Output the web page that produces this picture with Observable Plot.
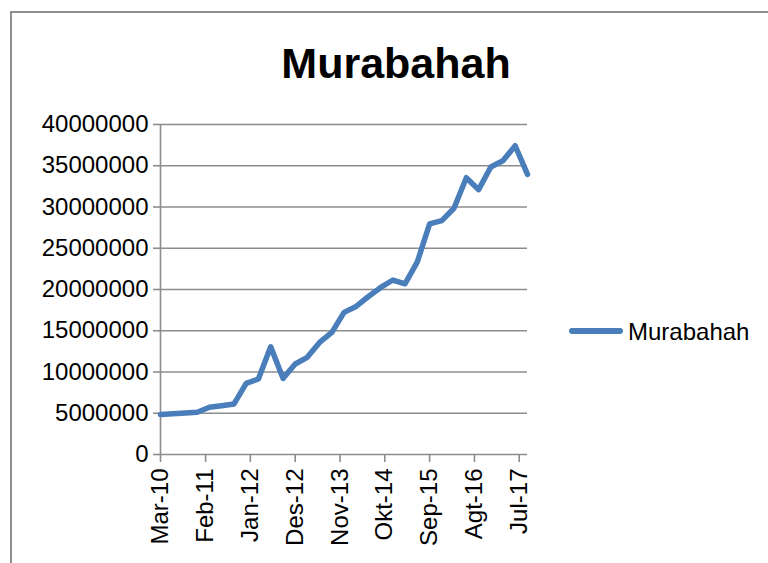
<!DOCTYPE html>
<html>
<head>
<meta charset="utf-8">
<script src="https://cdn.jsdelivr.net/npm/d3@7"></script>
<script src="https://cdn.jsdelivr.net/npm/@observablehq/plot@0.6"></script>
<style>
  html, body { margin: 0; padding: 0; background: #fff; }
  #wrap { position: relative; width: 768px; height: 563px; overflow: hidden; background: #fff; }
  #wrap svg.plot { position: absolute; left: 0; top: 0; }
  #border { position: absolute; left: 9.5px; top: 10.5px; width: 800px; height: 600px;
            border-left: 2px solid #8e8e8e; border-top: 2px solid #8e8e8e; box-sizing: border-box; }
  #title { position: absolute; left: 0; width: 792px; text-align: center; top: 41.5px;
           font: bold 43px "Liberation Sans", Arial, sans-serif; line-height: 43px; color: #000; }
  #legend { position: absolute; left: 569px; top: 318px; height: 24px; line-height: 24px;
            font: 24px "Liberation Sans", Arial, sans-serif; color: #000; white-space: nowrap; }
  #legend .sw { position: absolute; left: 0; top: 10px; width: 54px; height: 6px; border-radius: 3px; background: #4a7ebb; }
  #legend .lb { position: absolute; left: 59px; top: 0; }
</style>
</head>
<body>
<div id="wrap">
  <div id="border"></div>
  <div id="title">Murabahah</div>
  <div id="legend"><span class="sw"></span><span class="lb">Murabahah</span></div>
</div>
<script>
// Quarterly periods (Indonesian month abbreviations)
const periods = [
  "Mar-10","Jun-10","Sep-10","Des-10",
  "Mar-11","Jun-11","Sep-11","Des-11",
  "Mar-12","Jun-12","Sep-12","Des-12",
  "Mar-13","Jun-13","Sep-13","Des-13",
  "Mar-14","Jun-14","Sep-14","Des-14",
  "Mar-15","Jun-15","Sep-15","Des-15",
  "Mar-16","Jun-16","Sep-16","Des-16",
  "Mar-17","Jun-17","Sep-17"
];
const murabahah = [
  4850000, 4940000, 5030000, 5130000,
  5720000, 5920000, 6130000, 8620000,
  9150000, 13050000, 9230000, 10970000,
  11780000, 13580000, 14800000, 17230000,
  17950000, 19150000, 20250000, 21150000,
  20690000, 23350000, 27950000, 28350000,
  29850000, 33550000, 32100000, 34850000,
  35600000, 37420000, 33950000
];
const xTickLabels = ["Mar-10","Feb-11","Jan-12","Des-12","Nov-13","Okt-14","Sep-15","Agt-16","Jul-17"];
const yTicks = [0, 5000000, 10000000, 15000000, 20000000, 25000000, 30000000, 35000000, 40000000];
const monthNames = ["Jan","Feb","Mar","Apr","Mei","Jun","Jul","Agt","Sep","Okt","Nov","Des"];

function parsePeriod(s) {
  const [m, y] = s.split("-");
  return new Date(Date.UTC(2000 + +y, monthNames.indexOf(m), 1));
}

const data = periods.map((p, i) => ({date: parsePeriod(p), value: murabahah[i]}));
const xTickDates = xTickLabels.map(parsePeriod);
const labelMap = new Map(xTickDates.map((d, i) => [+d, xTickLabels[i]]));
const gray = "#8c8c8c";
const blue = "#4a7ebb";

const chart = Plot.plot({
  width: 768,
  height: 563,
  marginLeft: 160,
  marginRight: 241,
  marginTop: 124,
  marginBottom: 109,
  style: {fontFamily: "'Liberation Sans', Arial, sans-serif", fontSize: "24px", color: "#000", background: "transparent", overflow: "visible"},
  x: {type: "utc", domain: [parsePeriod(periods[0]), parsePeriod(periods[periods.length - 1])]},
  y: {domain: [0, 40000000]},
  marks: [
    Plot.gridY(yTicks, {stroke: gray, strokeOpacity: 1, strokeWidth: 1.6}),
    Plot.ruleX([parsePeriod(periods[0])], {stroke: gray, strokeWidth: 1.6}),
    Plot.axisY({ticks: yTicks, tickFormat: d => String(d), tickSize: 7, tickPadding: 5, stroke: gray, strokeWidth: 1.6, fill: "#000", label: null, fontSize: 24}),
    Plot.axisX({ticks: xTickDates, tickFormat: d => labelMap.get(+d), tickRotate: -90, tickSize: 8, tickPadding: 6, stroke: gray, strokeWidth: 1.6, fill: "#000", label: null, fontSize: 24}),
    Plot.line(data, {x: "date", y: "value", stroke: blue, strokeWidth: 5.5, strokeLinejoin: "round", strokeLinecap: "round"})
  ]
});
chart.classList.add("plot");
document.getElementById("wrap").insertBefore(chart, document.getElementById("border"));
</script>
</body>
</html>
